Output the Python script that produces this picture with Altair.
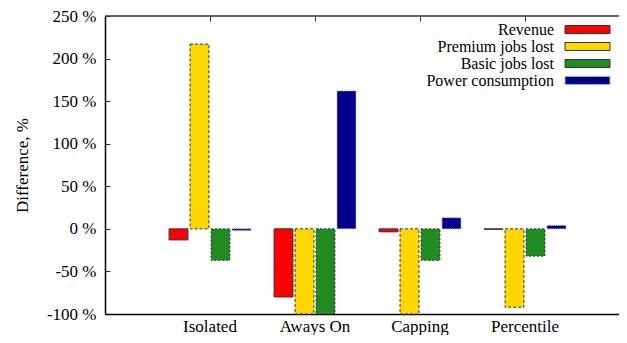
import altair as alt
import pandas as pd

categories = ["Isolated", "Aways On", "Capping", "Percentile"]
series = ["Revenue", "Premium jobs lost", "Basic jobs lost", "Power consumption"]
revenue = [-13, -80, -3.5, -0.5]
premium = [217, -100, -100, -92]
basic = [-37, -100, -37, -32]
power = [-2, 162, 13, 4]
y_ticks = [-100, -50, 0, 50, 100, 150, 200, 250]

fills = ["#ff0000", "#ffd700", "#228b22", "#00008b"]
strokes = ["#333333", "#333333", "#333333", "#aaaaaa"]
dashes = [[10, 0], [3, 2], [2, 2], [1, 1]]

rows = []
for s, vals in zip(series, [revenue, premium, basic, power]):
    for c, v in zip(categories, vals):
        rows.append({"category": c, "series": s, "value": v})
df = pd.DataFrame(rows)
leg_df = pd.DataFrame({"series": series})

W, H = 514, 298
XR = 525  # full x-range of the frame (extends past the visible page edge)
FONT = "Liberation Serif"
FS = 17

fill_enc = alt.Fill("series:N", sort=series, scale=alt.Scale(domain=series, range=fills), legend=None)
stroke_enc = alt.Stroke("series:N", sort=series, scale=alt.Scale(domain=series, range=strokes), legend=None)
dash_enc = alt.StrokeDash("series:N", sort=series, scale=alt.Scale(domain=series, range=dashes), legend=None)

bars = alt.Chart(df).mark_bar(strokeWidth=1).encode(
    x=alt.X("category:N", sort=categories,
            scale=alt.Scale(paddingInner=0.22, paddingOuter=0.61, range=[0, XR]),
            axis=alt.Axis(title=None, labelAngle=0, tickSize=0, labelPadding=4,
                          grid=True, gridDash=[5, 2000], gridColor="#333333",
                          gridWidth=1, bandPosition=0.5, domainColor="black", domainWidth=1.5,
                          labelFont=FONT, labelFontSize=FS, labelColor="black")),
    xOffset=alt.XOffset("series:N", sort=series, scale=alt.Scale(paddingInner=0.1)),
    y=alt.Y("value:Q", scale=alt.Scale(domain=[-100, 250], nice=False),
            axis=alt.Axis(values=y_ticks, labelExpr="datum.value + ' %'",
                          title="Difference, %", tickSize=0, labelPadding=9,
                          grid=True, gridDash=[5, 2000], gridColor="#333333",
                          gridWidth=1, domainColor="black", domainWidth=1.5,
                          labelFont=FONT, labelFontSize=FS, labelColor="black",
                          titleFont=FONT, titleFontSize=FS, titleFontWeight="normal",
                          titleColor="black", titlePadding=15)),
    fill=fill_enc, stroke=stroke_enc, strokeDash=dash_enc,
)

top_border = alt.Chart(pd.DataFrame({"k": [0]})).mark_rule(color="#333333", strokeWidth=1.5).encode(
    x=alt.value(0), x2=alt.value(XR), y=alt.value(0)
)

leg_y = alt.Y("series:N", sort=series, axis=None,
              scale=alt.Scale(type="band", range=[5, 73], paddingInner=0.53, paddingOuter=0.265))

leg_rect = alt.Chart(leg_df).mark_rect(strokeWidth=1).encode(
    x=alt.value(460), x2=alt.value(505), y=leg_y,
    fill=fill_enc, stroke=stroke_enc, strokeDash=dash_enc,
)
leg_text = alt.Chart(leg_df).mark_text(align="right", baseline="middle", font=FONT,
                                       fontSize=16, color="black").encode(
    x=alt.value(449), y=leg_y, text="series:N",
)

chart = alt.layer(bars, top_border, leg_rect + leg_text).resolve_scale(y="independent").properties(
    width=W, height=H,
    autosize=alt.AutoSizeParams(type="none"),
    padding={"left": 97, "top": 8, "right": 0, "bottom": 21},
).configure_view(
    stroke=None
)

chart.save("out.html", embed_options={"renderer": "svg", "actions": False})
